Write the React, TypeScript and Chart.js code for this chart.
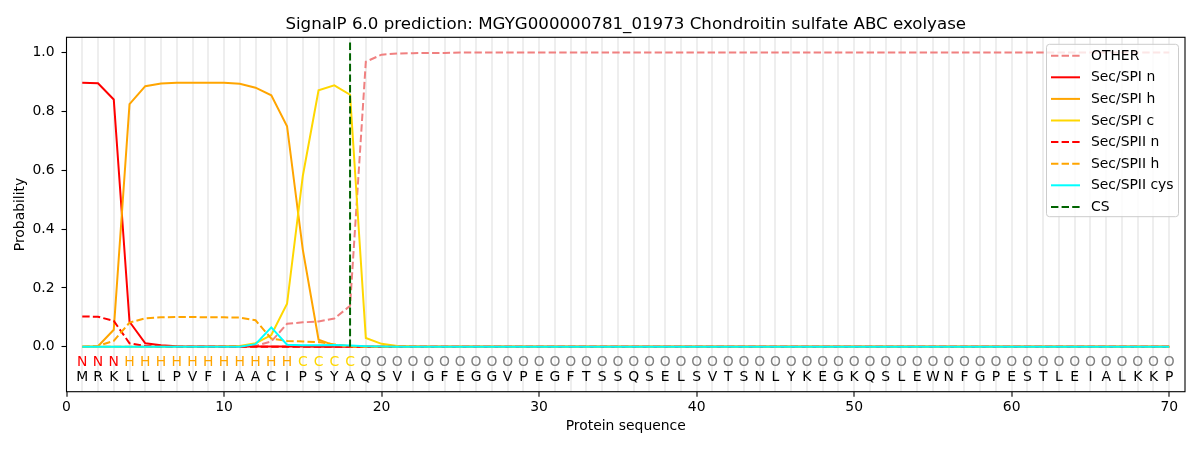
import React, { useEffect, useRef } from 'react';
import { Chart, registerables } from 'chart.js';

Chart.register(...registerables);

const TITLE = 'SignalP 6.0 prediction: MGYG000000781_01973 Chondroitin sulfate ABC exolyase';

const residues = 'MRKLLLPVFIAACIPSYAQSVIGFEGGVPEGFTSSQSELSVTSNLYKEGKQSLEWNFGPESTLEIALKKP'.split('');
const regionLabels = ('NNN' + 'HHHHHHHHHHH' + 'CCCC' +
  'OOOOOOOOOO' + 'OOOOOOOOOO' + 'OOOOOOOOOO' + 'OOOOOOOOOO' + 'OOOOOOOOOO' + 'OO').split('');

const xTicks = [0, 10, 20, 30, 40, 50, 60, 70];
const yTicks = [0, 0.2, 0.4, 0.6, 0.8, 1.0];
const csPosition = 18;

const other = [
  0, 0, 0, 0, 0, 0, 0, 0, 0, 0,
  0.001, 0.003, 0.018, 0.078, 0.083, 0.086, 0.096, 0.139, 0.968, 0.992,
  0.996, 0.997, 0.998, 0.998, 0.999, 0.999, 0.999, 0.999, 0.999, 0.999,
  0.999, 0.999, 0.999, 0.999, 0.999, 0.999, 0.999, 0.999, 0.999, 0.999,
  0.999, 0.999, 0.999, 0.999, 0.999, 0.999, 0.999, 0.999, 0.999, 0.999,
  0.999, 0.999, 0.999, 0.999, 0.999, 0.999, 0.999, 0.999, 0.999, 0.999,
  0.999, 0.999, 0.999, 0.999, 0.999, 0.999, 0.999, 0.999, 0.999, 0.999,
];
const spiN = [
  0.897, 0.895, 0.840, 0.085, 0.012, 0.005, 0.002, 0.001, 0.001, 0.001,
  0.001, 0.001, 0.001, 0.001, 0.001, 0, 0, 0, 0, 0,
  0, 0, 0, 0, 0, 0, 0, 0, 0, 0,
  0, 0, 0, 0, 0, 0, 0, 0, 0, 0,
  0, 0, 0, 0, 0, 0, 0, 0, 0, 0,
  0, 0, 0, 0, 0, 0, 0, 0, 0, 0,
  0, 0, 0, 0, 0, 0, 0, 0, 0, 0,
];
const spiH = [
  0, 0.002, 0.058, 0.824, 0.885, 0.894, 0.897, 0.897, 0.897, 0.897,
  0.893, 0.880, 0.854, 0.749, 0.330, 0.024, 0.005, 0.001, 0, 0,
  0, 0, 0, 0, 0, 0, 0, 0, 0, 0,
  0, 0, 0, 0, 0, 0, 0, 0, 0, 0,
  0, 0, 0, 0, 0, 0, 0, 0, 0, 0,
  0, 0, 0, 0, 0, 0, 0, 0, 0, 0,
  0, 0, 0, 0, 0, 0, 0, 0, 0, 0,
];
const spiC = [
  0, 0, 0, 0, 0, 0, 0, 0, 0, 0.001,
  0.003, 0.012, 0.040, 0.146, 0.580, 0.871, 0.888, 0.856, 0.030, 0.010,
  0.003, 0.001, 0, 0, 0, 0, 0, 0, 0, 0,
  0, 0, 0, 0, 0, 0, 0, 0, 0, 0,
  0, 0, 0, 0, 0, 0, 0, 0, 0, 0,
  0, 0, 0, 0, 0, 0, 0, 0, 0, 0,
  0, 0, 0, 0, 0, 0, 0, 0, 0, 0,
];
const spiiN = [
  0.103, 0.102, 0.088, 0.012, 0.003, 0.001, 0, 0, 0, 0,
  0, 0, 0, 0, 0, 0, 0, 0, 0, 0,
  0, 0, 0, 0, 0, 0, 0, 0, 0, 0,
  0, 0, 0, 0, 0, 0, 0, 0, 0, 0,
  0, 0, 0, 0, 0, 0, 0, 0, 0, 0,
  0, 0, 0, 0, 0, 0, 0, 0, 0, 0,
  0, 0, 0, 0, 0, 0, 0, 0, 0, 0,
];
const spiiH = [
  0, 0.003, 0.020, 0.082, 0.097, 0.100, 0.101, 0.101, 0.100, 0.100,
  0.099, 0.090, 0.028, 0.020, 0.018, 0.016, 0.008, 0.002, 0, 0,
  0, 0, 0, 0, 0, 0, 0, 0, 0, 0,
  0, 0, 0, 0, 0, 0, 0, 0, 0, 0,
  0, 0, 0, 0, 0, 0, 0, 0, 0, 0,
  0, 0, 0, 0, 0, 0, 0, 0, 0, 0,
  0, 0, 0, 0, 0, 0, 0, 0, 0, 0,
];
const spiiCys = [
  0, 0, 0, 0, 0, 0, 0, 0, 0, 0,
  0, 0.009, 0.066, 0.007, 0.005, 0.005, 0.006, 0.004, 0.002, 0.001,
  0, 0, 0, 0, 0, 0, 0, 0, 0, 0,
  0, 0, 0, 0, 0, 0, 0, 0, 0, 0,
  0, 0, 0, 0, 0, 0, 0, 0, 0, 0,
  0, 0, 0, 0, 0, 0, 0, 0, 0, 0,
  0, 0, 0, 0, 0, 0, 0, 0, 0, 0,
];

const DASH = [7.4, 3.2];
const FONT = '"DejaVu Sans", "Liberation Sans", sans-serif';
const labelColors: Record<string, string> = { N: '#ff0000', H: '#ffa500', C: '#ffd700', O: '#808080' };

const seriesDefs = [
  { label: 'OTHER', values: other, color: '#f08080', dash: DASH },
  { label: 'Sec/SPI n', values: spiN, color: '#ff0000', dash: [] as number[] },
  { label: 'Sec/SPI h', values: spiH, color: '#ffa500', dash: [] as number[] },
  { label: 'Sec/SPI c', values: spiC, color: '#ffd700', dash: [] as number[] },
  { label: 'Sec/SPII n', values: spiiN, color: '#ff0000', dash: DASH },
  { label: 'Sec/SPII h', values: spiiH, color: '#ffa500', dash: DASH },
  { label: 'Sec/SPII cys', values: spiiCys, color: '#00ffff', dash: [] as number[] },
];

export default function App() {
  const ref = useRef<HTMLCanvasElement | null>(null);

  useEffect(() => {
    document.body.style.margin = '0';
    const canvas = ref.current;
    if (!canvas) return;

    const datasets: any[] = seriesDefs.map((s, i) => ({
      label: s.label,
      data: s.values.map((v, k) => ({ x: k + 1, y: v })),
      borderColor: s.color,
      backgroundColor: s.color,
      borderDash: s.dash,
      borderWidth: 2,
      pointRadius: 0,
      fill: false,
      tension: 0,
      order: 20 - i,
    }));
    datasets.push({
      label: 'CS',
      data: [{ x: csPosition, y: 0 }, { x: csPosition, y: 1.035 }],
      borderColor: '#006400',
      backgroundColor: '#006400',
      borderDash: DASH,
      borderWidth: 2,
      pointRadius: 0,
      fill: false,
      order: 1,
    });

    const overlay = {
      id: 'overlay',
      afterDatasetsDraw(chart: any) {
        const { ctx, chartArea, scales } = chart;
        const xs = scales.x;
        const ys = scales.y;
        ctx.save();
        // sequence letters
        ctx.font = `13.9px ${FONT}`;
        ctx.textAlign = 'center';
        ctx.textBaseline = 'alphabetic';
        const yTop = ys.getPixelForValue(-0.066);
        const yBot = ys.getPixelForValue(-0.1165);
        residues.forEach((r, i) => {
          const x = xs.getPixelForValue(i + 1);
          const lab = regionLabels[i];
          ctx.fillStyle = labelColors[lab] || '#808080';
          ctx.fillText(lab, x, yTop);
          ctx.fillStyle = '#000000';
          ctx.fillText(r, x, yBot);
        });
        // frame
        ctx.strokeStyle = '#000000';
        ctx.lineWidth = 1.1;
        ctx.setLineDash([]);
        ctx.strokeRect(chartArea.left, chartArea.top, chartArea.right - chartArea.left, chartArea.bottom - chartArea.top);
        // title
        ctx.font = `16.67px ${FONT}`;
        ctx.fillStyle = '#000000';
        ctx.textAlign = 'center';
        ctx.textBaseline = 'alphabetic';
        ctx.fillText(TITLE, (chartArea.left + chartArea.right) / 2, chartArea.top - 8.3);
        // legend
        const items = chart.data.datasets;
        const bx = chartArea.right - 138.5;
        const by = chartArea.top + 7;
        const bw = 132;
        const bh = 172.4;
        const r = 3;
        ctx.beginPath();
        ctx.moveTo(bx + r, by);
        ctx.lineTo(bx + bw - r, by);
        ctx.arcTo(bx + bw, by, bx + bw, by + r, r);
        ctx.lineTo(bx + bw, by + bh - r);
        ctx.arcTo(bx + bw, by + bh, bx + bw - r, by + bh, r);
        ctx.lineTo(bx + r, by + bh);
        ctx.arcTo(bx, by + bh, bx, by + bh - r, r);
        ctx.lineTo(bx, by + r);
        ctx.arcTo(bx, by, bx + r, by, r);
        ctx.closePath();
        ctx.fillStyle = 'rgba(255,255,255,0.8)';
        ctx.fill();
        ctx.strokeStyle = '#cccccc';
        ctx.lineWidth = 1;
        ctx.stroke();
        ctx.font = `13.9px ${FONT}`;
        ctx.textAlign = 'left';
        ctx.textBaseline = 'middle';
        items.forEach((d: any, i: number) => {
          const y = by + 11.4 + i * 21.6;
          ctx.beginPath();
          ctx.strokeStyle = d.borderColor;
          ctx.lineWidth = 2;
          ctx.setLineDash(d.borderDash || []);
          ctx.moveTo(bx + 4.5, y);
          ctx.lineTo(bx + 33.5, y);
          ctx.stroke();
          ctx.setLineDash([]);
          ctx.fillStyle = '#000000';
          ctx.fillText(d.label, bx + 44.5, y + 0.5);
        });
        ctx.restore();
      },
    };

    const chart = new Chart(canvas, {
      type: 'line',
      data: { datasets },
      options: {
        animation: false,
        responsive: false,
        maintainAspectRatio: false,
        devicePixelRatio: 1,
        layout: { padding: { left: 0, right: 15, top: 37.3, bottom: 0 } },
        plugins: {
          legend: { display: false },
          title: { display: false },
          tooltip: { enabled: false },
        },
        scales: {
          x: {
            type: 'linear',
            min: 0,
            max: 71,
            afterFit: (scale: any) => { scale.height = 58.3; },
            afterBuildTicks: (scale: any) => {
              const t: any[] = [];
              residues.forEach((_, i) => t.push({ value: i + 1 }));
              scale.ticks = [{ value: 0 }, ...t];
            },
            border: { display: false },
            grid: {
              drawOnChartArea: true,
              drawTicks: true,
              tickLength: 5,
              lineWidth: 2,
              tickWidth: 1.1,
              color: (c: any) => (c.tick && c.tick.value >= 1 && c.tick.value <= 70 ? 'rgba(200,200,200,0.3)' : 'rgba(0,0,0,0)'),
              tickColor: (c: any) => (c.tick && xTicks.includes(c.tick.value) ? '#000000' : 'rgba(0,0,0,0)'),
            },
            ticks: {
              autoSkip: false,
              maxRotation: 0,
              padding: 2,
              color: '#000000',
              font: { family: FONT, size: 13.9 },
              callback: (v: any) => (xTicks.includes(Number(v)) ? String(v) : ''),
            },
            title: {
              display: true,
              text: 'Protein sequence',
              color: '#000000',
              font: { family: FONT, size: 13.9 },
              padding: { top: 0, bottom: 14.8 },
            },
          },
          y: {
            type: 'linear',
            min: -0.1525,
            max: 1.051,
            afterFit: (scale: any) => { scale.width = 66.5; },
            afterBuildTicks: (scale: any) => {
              scale.ticks = yTicks.map((v) => ({ value: v }));
            },
            border: { display: false },
            grid: {
              drawOnChartArea: false,
              drawTicks: true,
              tickLength: 5,
              tickWidth: 1.1,
              tickColor: '#000000',
            },
            ticks: {
              padding: 7,
              color: '#000000',
              font: { family: FONT, size: 13.9 },
              callback: (v: any) => Number(v).toFixed(1),
            },
            title: {
              display: true,
              text: 'Probability',
              color: '#000000',
              font: { family: FONT, size: 13.9 },
              padding: { top: 12.5, bottom: 0 },
            },
          },
        },
      } as any,
      plugins: [overlay],
    });

    return () => chart.destroy();
  }, []);

  return (
    <div style={{ width: 1200, height: 450, position: 'relative', background: '#ffffff' }}>
      <canvas ref={ref} width={1200} height={450} style={{ width: 1200, height: 450, display: 'block' }} />
    </div>
  );
}
